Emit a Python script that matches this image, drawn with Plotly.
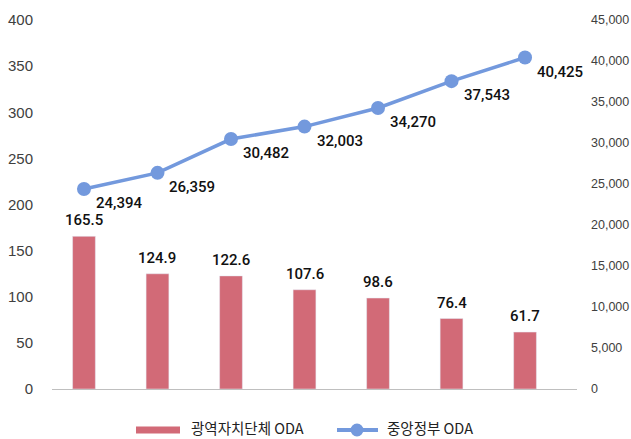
import plotly.graph_objects as go

categories = ["2016", "2017", "2018", "2019", "2020", "2021", "2022"]
local_oda = [165.5, 124.9, 122.6, 107.6, 98.6, 76.4, 61.7]
central_oda = [24394, 26359, 30482, 32003, 34270, 37543, 40425]
left_ticks = [0, 50, 100, 150, 200, 250, 300, 350, 400]
right_ticks = [0, 5000, 10000, 15000, 20000, 25000, 30000, 35000, 40000, 45000]
series_names = ["광역자치단체 ODA", "중앙정부 ODA"]

BAR_COLOR = "#D26A77"
LINE_COLOR = "#7399DD"

label_font = dict(family="Roboto, Arial, sans-serif", size=15, color="#111111", weight=500)
tick_font = dict(family="Liberation Sans, Arial, sans-serif", size=15, color="#404040")
tick_font_r = dict(family="Liberation Sans, Arial, sans-serif", size=12.5, color="#404040")
legend_font = dict(family="Noto Sans CJK KR, sans-serif", size=14.5, color="#222222")

xs = list(range(len(categories)))

fig = go.Figure()
fig.add_trace(go.Bar(
    x=xs, y=local_oda, name=series_names[0],
    marker_color=BAR_COLOR, width=0.31, yaxis="y",
    showlegend=False,
))
fig.add_trace(go.Scatter(
    x=xs, y=central_oda, name=series_names[1],
    mode="lines+markers",
    line=dict(color=LINE_COLOR, width=3.5),
    marker=dict(size=14, color=LINE_COLOR),
    cliponaxis=False, yaxis="y2",
    showlegend=False,
))

# plot area in pixels: x 52..577, y 20..389
L, R, T, B = 52, 54, 20, 50
W, H = 631, 439
pw, ph = W - L - R, H - T - B
def px(x):
    return (x - L) / pw
def py(y):
    return (H - B - y) / ph

legend_y = 430
legend_text_y = 427.5
shapes = [
    dict(type="rect", xref="paper", yref="paper", x0=px(136), x1=px(180),
         y0=py(legend_y + 3.5), y1=py(legend_y - 3.5), fillcolor=BAR_COLOR, line_width=0),
    dict(type="line", xref="paper", yref="paper", x0=px(337), x1=px(378),
         y0=py(legend_y), y1=py(legend_y), line=dict(color=LINE_COLOR, width=4)),
    dict(type="circle", xref="paper", yref="paper", x0=px(350.5), x1=px(363.5),
         y0=py(legend_y + 6.5), y1=py(legend_y - 6.5), fillcolor=LINE_COLOR, line_width=0),
]
annotations = [
    dict(text=series_names[0], xref="paper", yref="paper", x=px(189), y=py(legend_text_y),
         xanchor="left", yanchor="middle", showarrow=False, font=legend_font),
    dict(text=series_names[1], xref="paper", yref="paper", x=px(385), y=py(legend_text_y),
         xanchor="left", yanchor="middle", showarrow=False, font=legend_font),
]
# bar value labels
for x, v in zip(xs, local_oda):
    annotations.append(dict(text=f"{v:.1f}", x=x, y=v, xref="x", yref="y",
                            xanchor="center", yanchor="bottom", yshift=5,
                            showarrow=False, font=label_font))
# line value labels (below-right of each point)
for x, v in zip(xs, central_oda):
    annotations.append(dict(text=f"{v:,}", x=x, y=v, xref="x", yref="y2",
                            xanchor="left", yanchor="top", xshift=10, yshift=-3,
                            showarrow=False, font=label_font))

fig.update_layout(
    width=W, height=H,
    margin=dict(l=L, r=R, t=T, b=B, autoexpand=False),
    plot_bgcolor="white", paper_bgcolor="white",
    xaxis=dict(range=[-0.435, 6.707], showticklabels=False, showgrid=False,
               zeroline=False, showline=True, linecolor="#BFBFBF", linewidth=1,
               tickvals=xs, ticktext=categories),
    yaxis=dict(range=[0, 400], tickvals=left_ticks, showgrid=False, zeroline=False,
               tickfont=tick_font, ticklabelstandoff=18),
    yaxis2=dict(range=[0, 45000], tickvals=right_ticks, overlaying="y", side="right",
                showgrid=False, zeroline=False, tickformat=",", tickfont=tick_font_r,
                ticklabelstandoff=13),
    shapes=shapes, annotations=annotations,
    showlegend=False,
)

fig.write_html("out.html", config={"displayModeBar": False},
               post_script="document.body.style.margin='0';document.body.style.padding='0';")
